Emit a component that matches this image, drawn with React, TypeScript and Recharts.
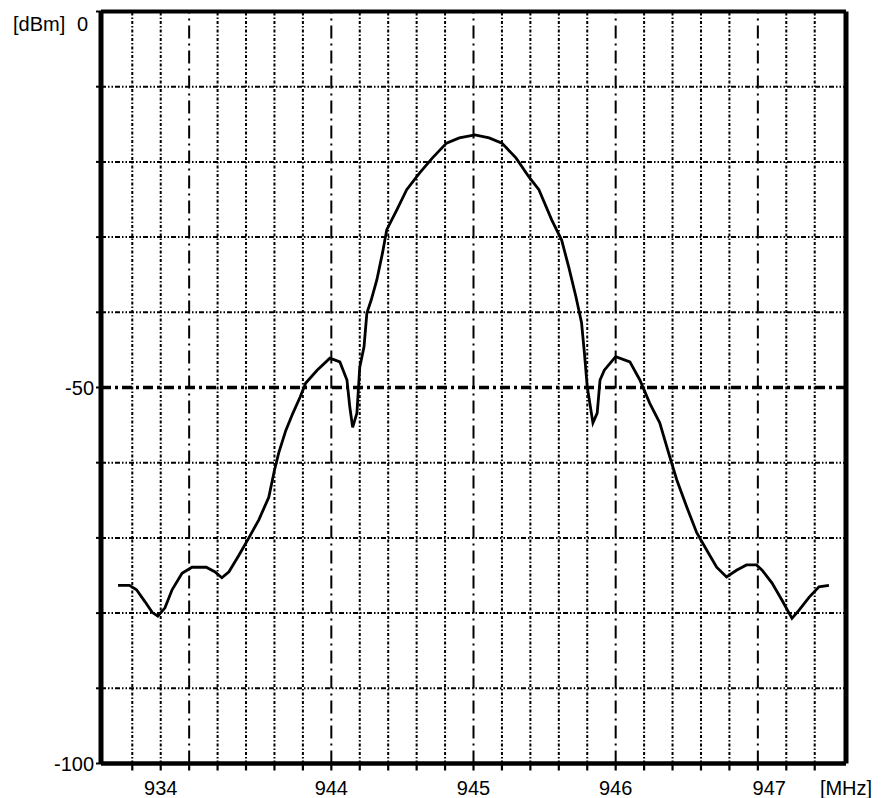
import React from "react";
import { LineChart, Line, XAxis, YAxis, ReferenceLine } from "recharts";

const freqMHz = [
  942.5, 942.58, 942.63, 942.69, 942.74, 942.78, 942.83, 942.88, 942.95, 943.02,
  943.12, 943.18, 943.23, 943.28, 943.35, 943.42, 943.49, 943.56, 943.6, 943.63,
  943.68, 943.73, 943.78, 943.82, 943.9, 943.99, 944.06, 944.11, 944.13, 944.15,
  944.18, 944.2, 944.23, 944.25, 944.28, 944.32, 944.36, 944.39, 944.46, 944.53,
  944.62, 944.71, 944.81, 944.9, 945.01, 945.11, 945.2, 945.3, 945.39, 945.46,
  945.55, 945.62, 945.67, 945.72, 945.76, 945.78, 945.8, 945.84, 945.87, 945.89,
  945.92, 946.0, 946.1, 946.17, 946.24, 946.31, 946.38, 946.43, 946.5, 946.57,
  946.64, 946.71, 946.78, 946.85, 946.92, 946.99, 947.03, 947.1, 947.17, 947.24,
  947.29, 947.36, 947.43, 947.5,
];

const levelDbm = [
  -76.3, -76.3, -76.9, -78.5, -79.9, -80.4, -79.3, -76.9, -74.7, -73.9,
  -73.9, -74.5, -75.3, -74.5, -72.3, -70.0, -67.6, -64.6, -61.0, -58.7,
  -55.7, -53.4, -51.3, -49.4, -47.7, -46.1, -46.6, -49.0, -52.6, -55.3,
  -53.4, -47.3, -44.6, -40.1, -38.4, -35.7, -32.1, -29.0, -26.4, -23.7,
  -21.5, -19.5, -17.5, -16.8, -16.4, -16.8, -17.5, -19.5, -22.0, -23.7,
  -27.7, -30.4, -34.0, -37.9, -41.4, -45.4, -49.9, -54.7, -53.4, -49.0,
  -47.7, -45.9, -46.6, -49.0, -52.1, -54.7, -59.2, -62.3, -65.9, -69.3,
  -71.6, -73.9, -75.2, -74.3, -73.6, -73.6, -74.3, -76.0, -78.3, -80.7,
  -79.6, -77.9, -76.5, -76.3,
];

const tickFreqs = [
  942.6, 942.8, 943.0, 943.2, 943.4, 943.6, 943.8, 944.0, 944.2, 944.4,
  944.6, 944.8, 945.0, 945.2, 945.4, 945.6, 945.8, 946.0, 946.2, 946.4,
  946.6, 946.8, 947.0, 947.2, 947.4,
];
const majorFreqs = [943, 944, 945, 946, 947];
const minorFreqs = tickFreqs.filter((f) => !majorFreqs.some((m) => Math.abs(m - f) < 1e-6));

const levelTicks = [0, -10, -20, -30, -40, -50, -60, -70, -80, -90, -100];
const minorLevels = [-10, -20, -30, -40, -60, -70, -80, -90];
const majorLevels = [-50];
const yLabelValues = [0, -50, -100];
const yLabelTexts = ["0", "-50", "-100"];

const xLabelPositions = [942.8, 944, 945, 946, 947.08, 947.62];
const xLabelTexts = ["934", "944", "945", "946", "947", "[MHz]"];

const xDomain = [942.38, 947.62];
const yDomain = [-100, 0];

const data = freqMHz.map((f, i) => ({ f, v: levelDbm[i] }));

const FONT = "'Liberation Sans', Arial, sans-serif";

const YTick = (props: any) => {
  const { x, y, payload } = props;
  const idx = yLabelValues.indexOf(payload.value);
  if (idx < 0) return null;
  if (payload.value === 0) {
    return (
      <g>
        <text x={x - 6} y={y + 12} dy="0.35em" textAnchor="end" fontSize={20} fontFamily={FONT} fill="#000">
          {yLabelTexts[idx]}
        </text>
        <text x={5} y={y + 12} dy="0.35em" textAnchor="start" fontSize={20} fontFamily={FONT} fill="#000">
          [dBm]
        </text>
      </g>
    );
  }
  return (
    <text x={x} y={y} dy="0.35em" textAnchor="end" fontSize={20} fontFamily={FONT} fill="#000">
      {yLabelTexts[idx]}
    </text>
  );
};

const XMarkTick = (props: any) => {
  const { x, y } = props;
  return <line x1={x} x2={x} y1={y} y2={y + 7} stroke="#000" strokeWidth={2.2} />;
};

const XLabelTick = (props: any) => {
  const { x, y, payload } = props;
  let idx = -1;
  xLabelPositions.forEach((p, i) => {
    if (Math.abs(p - payload.value) < 1e-6) idx = i;
  });
  if (idx < 0) return null;
  return (
    <text x={x} y={y + 23} textAnchor="middle" fontSize={20} fontFamily={FONT} fill="#000">
      {xLabelTexts[idx]}
    </text>
  );
};

export default function App() {
  return (
    <div style={{ width: 874, height: 790, background: "#fff" }}>
      <LineChart
        width={874}
        height={790}
        data={data}
        margin={{ top: 3.5, right: 36, left: 0, bottom: 4.5 }}
      >
        <XAxis
          xAxisId="a"
          dataKey="f"
          type="number"
          domain={xDomain}
          allowDataOverflow
          ticks={tickFreqs}
          interval={0}
          tick={<XMarkTick />}
          tickSize={0}
          tickMargin={0}
          height={8}
          axisLine={{ stroke: "#000", strokeWidth: 4.5 }}
          tickLine={false}
        />
        <XAxis
          xAxisId="b"
          dataKey="f"
          type="number"
          domain={xDomain}
          allowDataOverflow
          ticks={xLabelPositions}
          interval={0}
          tick={<XLabelTick />}
          tickSize={0}
          tickMargin={0}
          height={22}
          axisLine={false}
          tickLine={false}
        />
        <YAxis
          type="number"
          domain={yDomain}
          allowDataOverflow
          ticks={levelTicks}
          interval={0}
          width={93}
          tickSize={5}
          tickMargin={2}
          tick={<YTick />}
          axisLine={{ stroke: "#000", strokeWidth: 5 }}
          tickLine={{ stroke: "#000", strokeWidth: 2 }}
        />
        {minorFreqs.map((f) => (
          <ReferenceLine
            key={"vm" + f}
            xAxisId="a"
            x={f}
            stroke="#000"
            strokeWidth={2}
            strokeDasharray="3 2 1.5 2"
          />
        ))}
        {majorFreqs.map((f) => (
          <ReferenceLine
            key={"vM" + f}
            xAxisId="a"
            x={f}
            stroke="#000"
            strokeWidth={2}
            strokeDasharray="13 5 2 5"
          />
        ))}
        {minorLevels.map((v) => (
          <ReferenceLine
            key={"hm" + v}
            xAxisId="a"
            y={v}
            stroke="#000"
            strokeWidth={2}
            strokeDasharray="5 2 1.5 2 1.5 2"
          />
        ))}
        {majorLevels.map((v) => (
          <ReferenceLine
            key={"hM" + v}
            xAxisId="a"
            y={v}
            stroke="#000"
            strokeWidth={3.5}
            strokeDasharray="10 4 3 4"
          />
        ))}
        <Line
          xAxisId="a"
          dataKey="v"
          type="linear"
          stroke="#000"
          strokeWidth={2.8}
          dot={false}
          isAnimationActive={false}
        />
        <ReferenceLine xAxisId="a" y={yDomain[1]} stroke="#000" strokeWidth={4} />
        <ReferenceLine xAxisId="a" x={xDomain[1]} stroke="#000" strokeWidth={5} />
      </LineChart>
    </div>
  );
}
